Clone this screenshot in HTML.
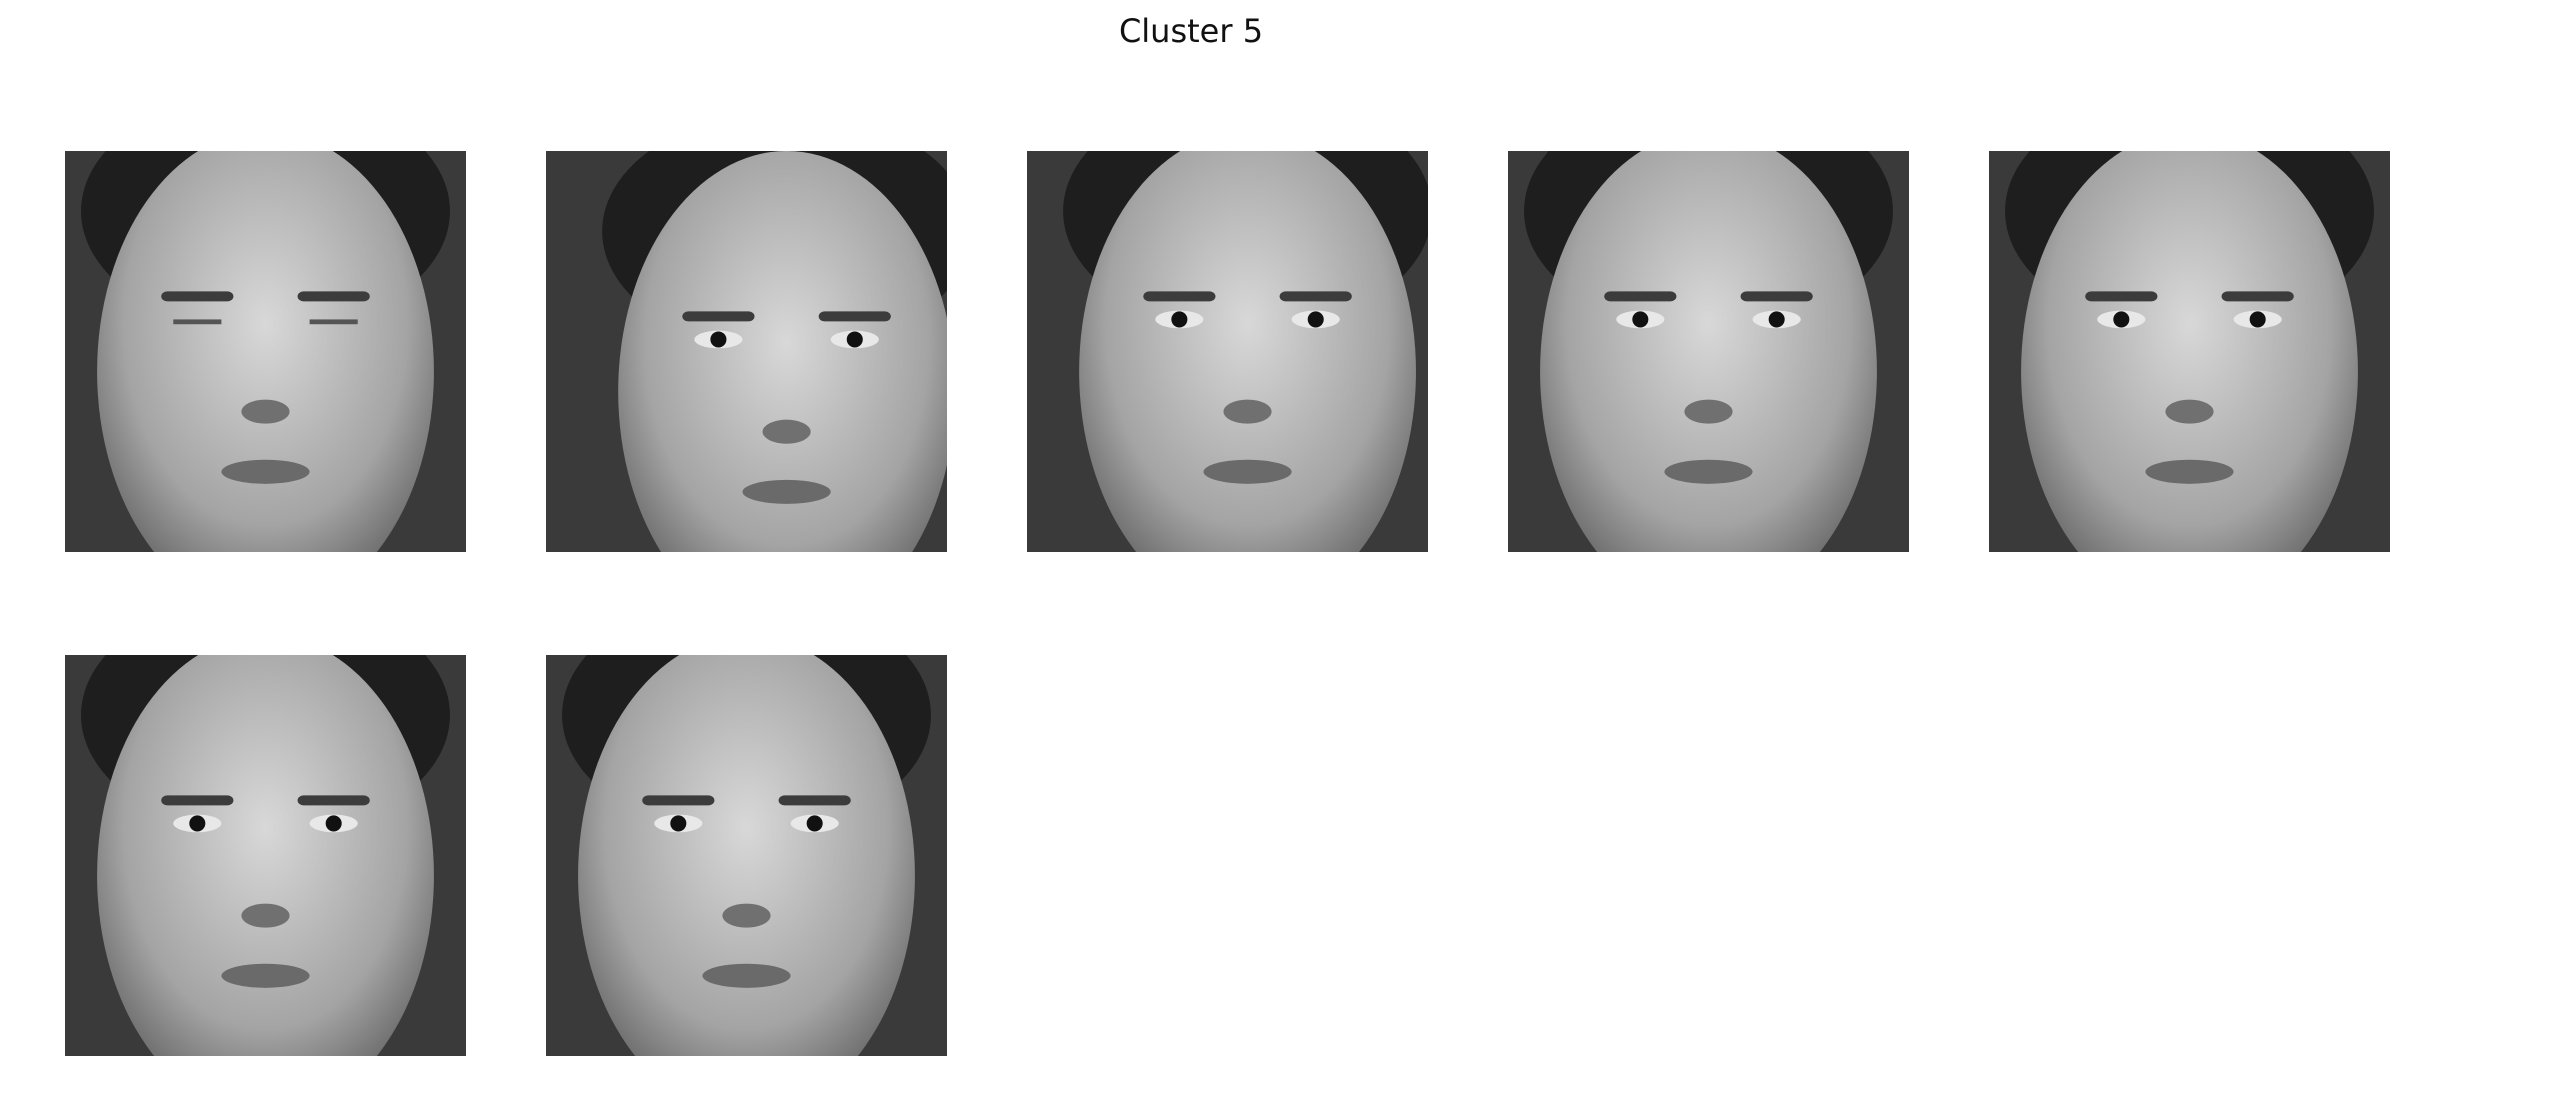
<!DOCTYPE html>
<html><head><meta charset="utf-8"><style>
html,body{margin:0;padding:0;background:#fff;}
body{width:2560px;height:1110px;position:relative;overflow:hidden;font-family:"Liberation Sans","DejaVu Sans",sans-serif;}
#title{position:absolute;left:0;width:2382px;top:12px;text-align:center;font-size:32px;color:#111;font-family:"DejaVu Sans","Liberation Sans",sans-serif;}
svg{position:absolute;left:0;top:0;}
</style></head><body>
<div id="title">Cluster 5</div>
<svg id="fig" width="2560" height="1110"></svg>
<script>
// panel grid slots (column, row) and per-face head offsets (fraction of panel)
const panelCols = [0,1,2,3,4,0,1];
const panelRows = [0,0,0,0,0,1,1];
const headShiftX = [0.0, 0.1, 0.05, 0.0, 0.0, 0.0, 0.0];
const headShiftY = [0.0, 0.05, 0.0, 0.0, 0.0, 0.0, 0.0];
const eyesClosed = [1,0,0,0,0,0,0];
const NS="http://www.w3.org/2000/svg";
const svg=document.getElementById('fig');
const X0=65, DX=481, Y0=151, DY=504, S=401;
function colX(c){return X0+c*DX;}
function rowY(r){return Y0+r*DY;}
function mk(tag,attrs,parent){const e=document.createElementNS(NS,tag);for(const k in attrs)e.setAttribute(k,attrs[k]);parent.appendChild(e);return e;}
const defs=mk('defs',{},svg);
const rg=mk('radialGradient',{id:'skin',cx:'50%',cy:'40%',r:'60%'},defs);
mk('stop',{offset:'0%','stop-color':'#d8d8d8'},rg);
mk('stop',{offset:'70%','stop-color':'#a4a4a4'},rg);
mk('stop',{offset:'100%','stop-color':'#6a6a6a'},rg);
for(let i=0;i<panelCols.length;i++){
  const x=colX(panelCols[i]), y=rowY(panelRows[i]);
  const g=mk('g',{},svg);
  
  
  const cp=mk('clipPath',{id:'c'+i},defs);
  mk('rect',{x:x,y:y,width:S,height:S},cp);
  g.setAttribute('clip-path','url(#c'+i+')');
  mk('rect',{x:x,y:y,width:S,height:S,fill:'#3a3a3a'},g);
  const cx=x+S*(0.5+headShiftX[i]), cy=y+S*(0.5+headShiftY[i]);
  mk('ellipse',{cx:cx,cy:cy-S*0.35,rx:S*0.46,ry:S*0.3,fill:'#1e1e1e'},g);
  mk('ellipse',{cx:cx,cy:cy+S*0.05,rx:S*0.42,ry:S*0.6,fill:'url(#skin)'},g);
  const ey=cy-S*0.08;
  [-1,1].forEach(s=>{
    mk('rect',{x:cx+s*S*0.17-S*0.09,y:ey-S*0.07,width:S*0.18,height:S*0.025,rx:6,fill:'#3c3c3c'},g);
    if(eyesClosed[i]) mk('rect',{x:cx+s*S*0.17-S*0.06,y:ey,width:S*0.12,height:S*0.012,fill:'#555'},g);
    else { mk('ellipse',{cx:cx+s*S*0.17,cy:ey,rx:S*0.06,ry:S*0.022,fill:'#e8e8e8'},g);
           mk('circle',{cx:cx+s*S*0.17,cy:ey,r:S*0.02,fill:'#111'},g); }
  });
  mk('ellipse',{cx:cx,cy:cy+S*0.15,rx:S*0.06,ry:S*0.03,fill:'#707070'},g);
  mk('ellipse',{cx:cx,cy:cy+S*0.3,rx:S*0.11,ry:S*0.03,fill:'#6a6a6a'},g);
}
</script>
</body></html>
